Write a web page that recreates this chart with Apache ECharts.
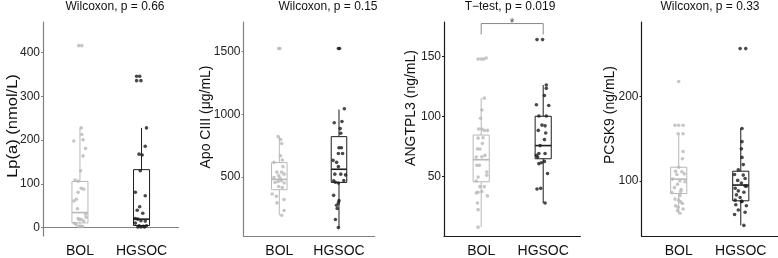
<!DOCTYPE html>
<html>
<head>
<meta charset="utf-8">
<script src="https://cdn.jsdelivr.net/npm/echarts@6/dist/echarts.min.js"></script>
<style>
  html, body { margin: 0; padding: 0; background: #fff; }
  #main { width: 778px; height: 258px; }
</style>
</head>
<body>
<div id="main"></div>
<script>
  // groups on the x axis
  const categories = ['BOL', 'HGSOC'];
  const titles = ['Wilcoxon, p = 0.66', 'Wilcoxon, p = 0.15', 'T\u2212test, p = 0.019', 'Wilcoxon, p = 0.33'];
  const yNames = ['Lp(a) (nmol/L)', 'Apo CIII (\u03bcg/mL)', 'ANGTPL3 (ng/mL)', 'PCSK9 (ng/mL)'];
  const yTicks = [[0, 100, 200, 300, 400], [500, 1000, 1500], [50, 100, 150], [100, 200]];

  // Lp(a)
  const lpaBol = [416, 416, 228, 213, 198, 201, 181, 164, 130, 109, 106, 90, 88, 81, 61, 65, 43, 31, 24, 19, 18, 21, 15, 10, 7, 2, 2, 3];
  const lpaBolJit = [-0.02, 0.03, 0.02, 0.03, -0.10, 0.05, 0.09, 0.05, 0.01, -0.08, -0.03, 0.02, 0.06, -0.03, -0.10, -0.06, -0.04, 0.09, 0.10, 0.02, -0.01, -0.03, 0.06, -0.09, -0.06, -0.02, 0.02, 0.04];
  const lpaHg = [346, 346, 336, 336, 228, 186, 168, 166, 130, 81, 73, 48, 40, 33, 21, 19.5, 16, 15, 10.5, 4.5, 3, 4.5, 1.5, 1.5, 1.5];
  const lpaHgJit = [-0.08, -0.03, -0.08, -0.01, 0.08, 0.06, -0.04, 0.01, -0.02, -0.10, 0.06, -0.03, -0.07, 0.02, -0.10, -0.06, -0.01, 0.06, -0.10, -0.04, 0.03, 0.08, -0.06, -0.01, 0.05];
  const lpaBox = [[1.5, 11, 34.5, 105.6, 228], [1.5, 5, 19.5, 132.6, 228]];

  // Apo CIII
  const apoBol = [1526, 1526, 823, 800, 768, 671, 637, 618, 584, 540, 540, 524, 513, 497, 492, 471, 466, 458, 453, 426, 418, 366, 347, 321, 295, 234, 197];
  const apoBolJit = [-0.01, 0.01, -0.02, 0.02, 0.04, 0.02, 0.05, -0.09, 0.06, -0.04, 0.04, 0.08, -0.01, -0.09, 0.01, 0.03, -0.02, -0.07, 0.08, -0.01, 0.05, -0.12, -0.05, 0.08, -0.04, 0.08, 0.04];
  const apoHg = [1526, 1526, 1045, 944, 934, 887, 850, 734, 734, 689, 689, 634, 618, 584, 524, 524, 518, 474, 471, 460, 453, 355, 313, 295, 276, 250, 163, 98];
  const apoHgJit = [-0.01, 0.01, 0.09, 0.05, -0.08, 0.02, 0.03, 0.0, 0.04, -0.01, 0.06, -0.10, -0.04, -0.01, -0.07, 0.03, 0.11, 0.08, -0.09, -0.06, -0.01, -0.09, 0.0, -0.01, -0.04, -0.03, -0.06, -0.01];
  const apoBox = [[197, 400, 482, 616, 823], [98, 458, 563, 823, 1039]];

  // ANGTPL3
  const angBol = [148, 148, 148, 149, 115.4, 105.5, 98.6, 89.6, 89.6, 88.5, 88.5, 82, 82.4, 77.5, 73, 73, 67.6, 66.5, 66.2, 59.3, 59.3, 53.8, 51, 49.5, 46.2, 41.5, 41.5, 36.3, 36.8, 37.4, 33.8, 27.8, 22.3, 7.7];
  const angBolJit = [-0.05, 0, 0.04, 0.08, 0.05, 0.01, -0.01, -0.04, 0.01, 0.05, 0.10, -0.05, 0.03, 0.02, -0.06, -0.02, 0.06, 0.01, -0.08, -0.07, -0.03, 0.09, 0.09, -0.05, -0.08, -0.02, 0.05, -0.08, -0.05, 0.01, 0.10, -0.06, -0.05, -0.05];
  const angHg = [164.3, 164.3, 126.4, 123.6, 117.6, 109.9, 109.3, 100.5, 100.5, 92.9, 92.3, 88.5, 86.3, 80.8, 75.8, 69.2, 69.2, 67.6, 66.2, 62.6, 61.5, 60.7, 52.5, 40.1, 39.6, 27.8];
  const angHgJit = [-0.10, -0.01, 0.05, 0.05, 0.02, -0.11, 0.09, -0.07, 0.05, -0.02, 0.03, -0.08, 0.04, 0.02, -0.05, -0.07, 0.03, -0.11, -0.09, 0.02, -0.03, -0.07, 0.07, -0.04, -0.10, 0.03];
  const angBox = [[7.7, 45.6, 64, 84.6, 115.4], [27.8, 64.8, 75.8, 100.3, 126.4]];
  const angBracket = [168.6, 177.7];
  const angSig = '*';

  // PCSK9
  const pcBol = [217.4, 165.9, 165.9, 165.9, 155.8, 155.8, 134.9, 126.4, 116.3, 111.6, 110.9, 108.5, 107.8, 102.3, 100, 99.2, 96.1, 92.2, 89.9, 86.4, 87.6, 82.9, 78.7, 77.5, 75.6, 73.6, 70.9, 69, 67.1, 65.1, 62];
  const pcBolJit = [0, -0.06, 0, 0.07, -0.01, 0.07, 0.07, 0.06, 0, -0.05, 0.05, 0.09, -0.03, -0.10, 0.02, 0.10, -0.02, -0.07, 0.04, -0.11, 0.03, 0.02, -0.06, 0, 0.03, 0.06, -0.05, -0.01, 0.07, -0.02, 0.02];
  const pcHg = [256.2, 256.2, 162, 146.5, 138, 127.9, 119.4, 113.2, 107.8, 107, 103.1, 100.8, 97.7, 94.2, 93.8, 91.5, 88.4, 86.8, 83.7, 80.6, 77.5, 76, 76, 72.1, 70.9, 65.9, 63.2, 60.5, 47.7];
  const pcHgJit = [-0.01, 0.08, 0.02, 0.02, 0.01, 0.02, 0.04, -0.04, -0.10, 0.04, 0.07, -0.05, 0.01, 0.07, 0.09, -0.09, -0.04, 0.05, -0.07, -0.01, -0.09, 0.02, 0.01, -0.08, 0.09, -0.04, 0.07, -0.10, 0.05];
  const pcBox = [[62, 85.3, 102.3, 116.3, 155.8], [47.7, 76.7, 95.3, 111.6, 162]];

  const FONT = '"Liberation Sans", Arial, sans-serif';
  const groupColors = ['#b8b8b8', '#1c1c1c'];
  const BOX_HALF = 0.13;

  const panels = [
    { bol: lpaBol, bolJit: lpaBolJit, hg: lpaHg, hgJit: lpaHgJit, box: lpaBox, min: -19, max: 470, left: 43, width: 135.5, axis: '#808080', title: [115, 6.5], yName: [13, 126], stretch: 1.18 },
    { bol: apoBol, bolJit: apoBolJit, hg: apoHg, hgJit: apoHgJit, box: apoBox, min: 31, max: 1737, left: 243.5, width: 131.3, axis: '#808080', title: [328, 6.5], yName: [206, 117], stretch: 1 },
    { bol: angBol, bolJit: angBolJit, hg: angHg, hgJit: angHgJit, box: angBox, min: 0.3, max: 179, left: 444, width: 136.4, axis: '#1a1a1a', title: [510, 6.5], yName: [411, 108], stretch: 1 },
    { bol: pcBol, bolJit: pcBolJit, hg: pcHg, hgJit: pcHgJit, box: pcBox, min: 35.2, max: 287.6, left: 641.5, width: 137, axis: '#1a1a1a', title: [710, 6.5], yName: [610, 115], stretch: 1 }
  ];

  function renderBox(params, api) {
    const x = api.value(0);
    const color = groupColors[params.dataIndex];
    const a = api.coord([x - BOX_HALF, api.value(4)]);
    const b = api.coord([x + BOX_HALF, api.value(2)]);
    const m = api.coord([x, api.value(3)]);
    const top = api.coord([x, api.value(5)]);
    const bot = api.coord([x, api.value(1)]);
    const style = { stroke: color, fill: null, lineWidth: 1 };
    return {
      type: 'group',
      children: [
        { type: 'rect', shape: { x: a[0], y: a[1], width: b[0] - a[0], height: b[1] - a[1] }, style: style },
        { type: 'line', shape: { x1: a[0], y1: m[1], x2: b[0], y2: m[1] }, style: { stroke: color, lineWidth: 1.6 } },
        { type: 'line', shape: { x1: top[0], y1: top[1], x2: top[0], y2: a[1] }, style: style },
        { type: 'line', shape: { x1: bot[0], y1: b[1], x2: bot[0], y2: bot[1] }, style: style }
      ]
    };
  }

  const grid = [], xAxis = [], yAxis = [], series = [], graphic = [];
  panels.forEach((p, i) => {
    grid.push({ left: p.left, top: 22, width: p.width, height: 217 });
    xAxis.push({
      type: 'value', gridIndex: i, min: 0.4, max: 2.6,
      axisLine: { lineStyle: { color: p.axis, width: 1.2 } },
      axisTick: { show: false },
      splitLine: { show: false },
      axisLabel: {
        customValues: [1, 2], margin: 8, fontSize: 14, color: '#111', fontFamily: FONT,
        formatter: v => categories[Math.round(v) - 1]
      }
    });
    yAxis.push({
      type: 'value', gridIndex: i, min: p.min, max: p.max,
      axisLine: { show: true, lineStyle: { color: p.axis, width: 1.2 } },
      axisTick: { show: true, length: 2, customValues: yTicks[i], lineStyle: { color: p.axis } },
      splitLine: { show: false },
      axisLabel: { customValues: yTicks[i], margin: 3, fontSize: 12, color: '#222', fontFamily: FONT, formatter: v => String(v) }
    });
    series.push({
      type: 'custom', xAxisIndex: i, yAxisIndex: i, renderItem: renderBox, silent: true,
      encode: { x: 0, y: [1, 2, 3, 4, 5] },
      data: p.box.map((b, k) => [k + 1].concat(b))
    });
    series.push({
      type: 'scatter', xAxisIndex: i, yAxisIndex: i, symbolSize: 3.6,
      itemStyle: { color: groupColors[0] },
      data: p.bol.map((v, k) => [1 + p.bolJit[k], v])
    });
    series.push({
      type: 'scatter', xAxisIndex: i, yAxisIndex: i, symbolSize: 3.6,
      itemStyle: { color: groupColors[1] },
      data: p.hg.map((v, k) => [2 + p.hgJit[k], v])
    });
    graphic.push({
      type: 'text', x: p.title[0], y: p.title[1],
      style: { text: titles[i], fill: '#111', font: '12px ' + FONT, align: 'center', verticalAlign: 'middle' }
    });
    graphic.push({
      type: 'text', x: p.yName[0], y: p.yName[1], rotation: Math.PI / 2, scaleX: p.stretch,
      style: { text: yNames[i], fill: '#111', font: '14px ' + FONT, align: 'center', verticalAlign: 'middle' }
    });
  });

  // significance bracket on the ANGTPL3 panel
  series.push({
    type: 'line', xAxisIndex: 2, yAxisIndex: 2, symbol: 'none', silent: true,
    lineStyle: { color: '#888', width: 1 },
    data: [[1, angBracket[0]], [1, angBracket[1]], [2, angBracket[1]], [2, angBracket[0]]]
  });
  series.push({
    type: 'scatter', xAxisIndex: 2, yAxisIndex: 2, symbolSize: 0, silent: true,
    label: { show: true, position: 'top', distance: -6, formatter: angSig, fontSize: 12, color: '#111', fontFamily: FONT },
    data: [[1.5, angBracket[1]]]
  });

  const chart = echarts.init(document.getElementById('main'));
  chart.setOption({
    animation: false,
    grid: grid,
    xAxis: xAxis,
    yAxis: yAxis,
    series: series,
    graphic: graphic
  });
</script>
</body>
</html>
